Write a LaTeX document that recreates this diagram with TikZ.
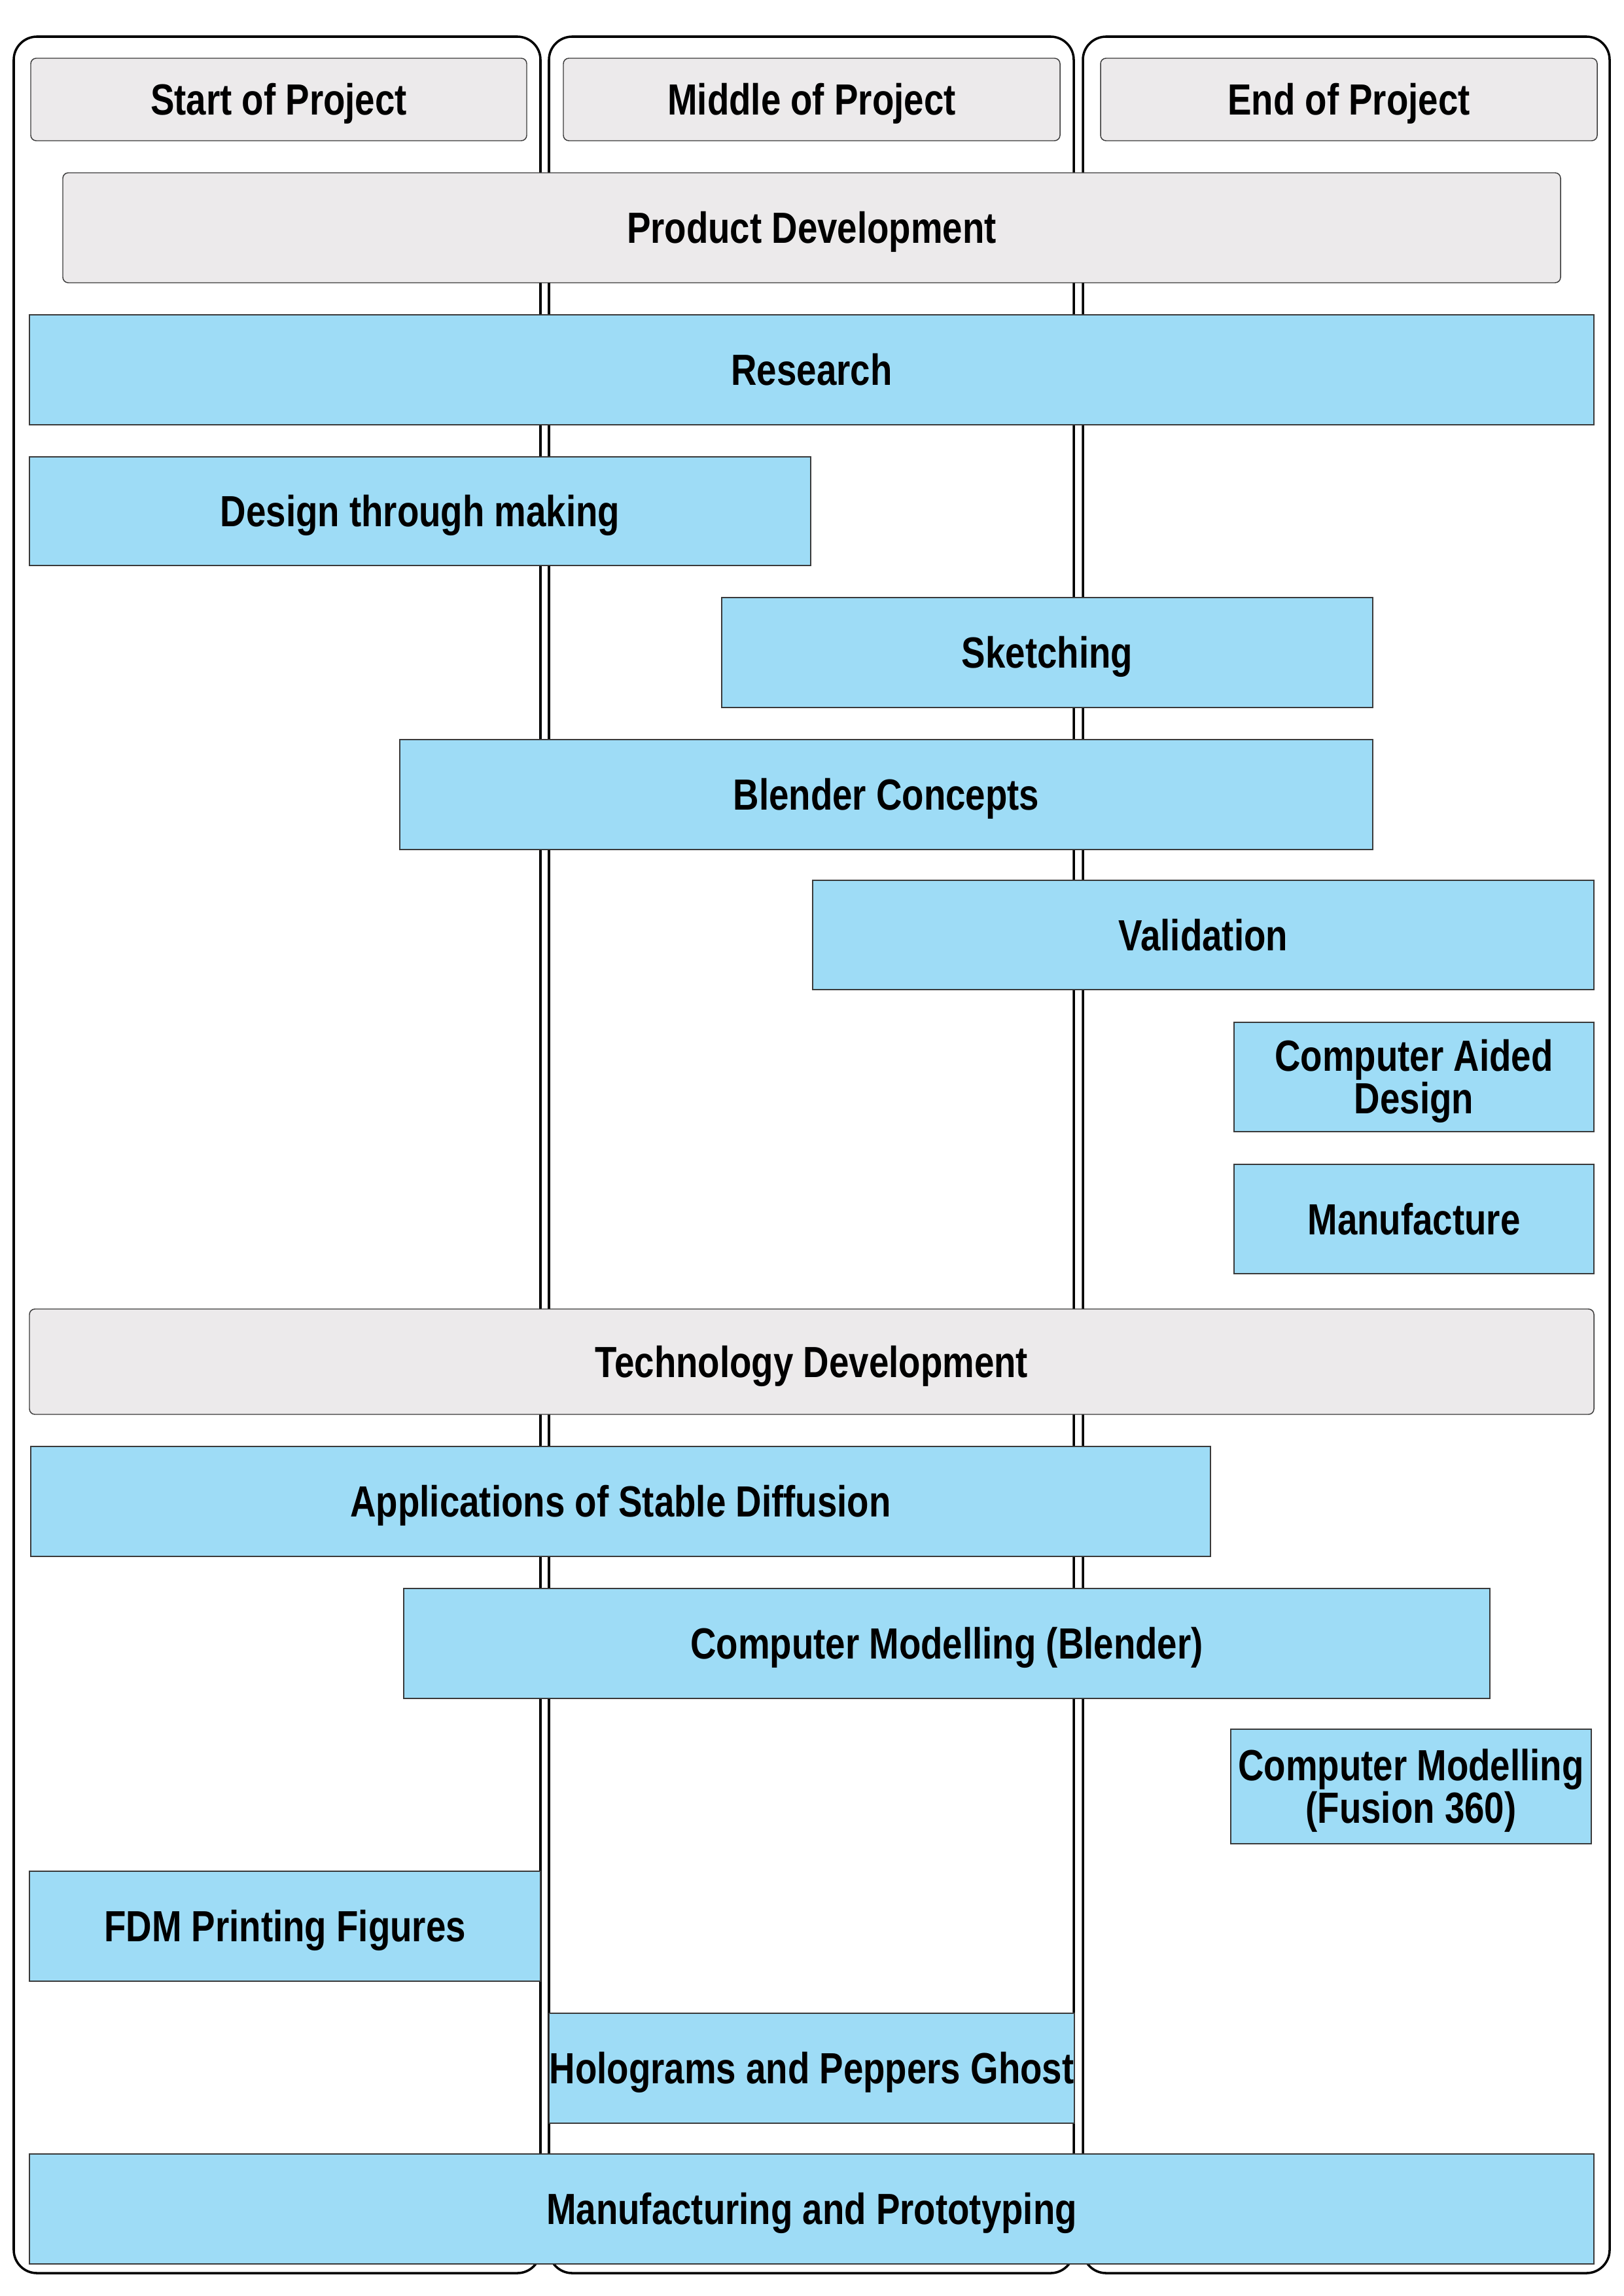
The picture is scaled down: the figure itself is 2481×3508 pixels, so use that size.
\documentclass[tikz,border=0pt]{standalone}
\usepackage{fontspec}
\setmainfont{Liberation Sans}[FakeStretch=0.82]
\definecolor{boxblue}{HTML}{9EDCF6}
\definecolor{boxgrey}{HTML}{ECEAEB}
\definecolor{edgegrey}{HTML}{3A3A3A}
\newcommand\tlbox[7]{\node[#6, minimum width={(#4-#2)*0.24pt}, minimum height={(#5-#3)*0.24pt}] (#1) at ({(#2+#4)/2},{(#3+#5)/2}) {#7};}
\begin{document}
\begin{tikzpicture}[x=0.24pt,y=-0.24pt,
  lane/.style={draw=black, line width=0.85pt, fill=white, rounded corners=8.5pt},
  basebox/.style={inner sep=0pt, outer sep=0pt, draw=edgegrey, line width=0.35pt, align=center,
     font={\fontsize{16}{15.6}\selectfont\bfseries}, text=black, text height=11.5pt, text depth=0pt},
  twoline/.style={text height=27.1pt, text depth=0pt},
  greybox/.style={basebox, fill=boxgrey, rounded corners=2pt},
  bluebox/.style={basebox, fill=boxblue}]
\useasboundingbox (0,0) rectangle (2481,3508);
% lanes
\path[lane] (21,56) rectangle (826,3473);
\path[lane] (839,56) rectangle (1641,3473);
\path[lane] (1655,56) rectangle (2460,3473);
% headers
\tlbox{start}{47}{89}{805}{215}{greybox}{Start of Project}
\tlbox{middle}{861}{89}{1620}{215}{greybox}{Middle of Project}
\tlbox{end}{1682}{89}{2441}{215}{greybox}{End of Project}
% product development
\tlbox{prod}{96}{264}{2385}{432}{greybox}{Product Development}
\tlbox{research}{45}{481}{2436}{649}{bluebox}{Research}
\tlbox{dtm}{45}{698}{1239}{864}{bluebox}{Design through making}
\tlbox{sketch}{1103}{913}{2098}{1081}{bluebox}{Sketching}
\tlbox{blender}{611}{1130}{2098}{1298}{bluebox}{Blender Concepts}
\tlbox{valid}{1242}{1345}{2436}{1512}{bluebox}{Validation}
\tlbox{cad}{1886}{1562}{2436}{1729}{bluebox,twoline}{Computer Aided\\Design}
\tlbox{manu}{1886}{1779}{2436}{1946}{bluebox}{Manufacture}
% technology development
\tlbox{tech}{45}{2000}{2436}{2161}{greybox}{Technology Development}
\tlbox{stable}{47}{2210}{1850}{2378}{bluebox}{Applications of Stable Diffusion}
\tlbox{cmb}{617}{2427}{2277}{2595}{bluebox}{Computer Modelling (Blender)}
\tlbox{cmf}{1881}{2642}{2432}{2817}{bluebox,twoline}{Computer Modelling\\(Fusion 360)}
\tlbox{fdm}{45}{2859}{826}{3027}{bluebox}{FDM Printing Figures}
\tlbox{holo}{839}{3076}{1642}{3244}{bluebox}{Holograms and Peppers Ghost}
\tlbox{mp}{45}{3291}{2436}{3459}{bluebox}{Manufacturing and Prototyping}
\end{tikzpicture}
\end{document}
